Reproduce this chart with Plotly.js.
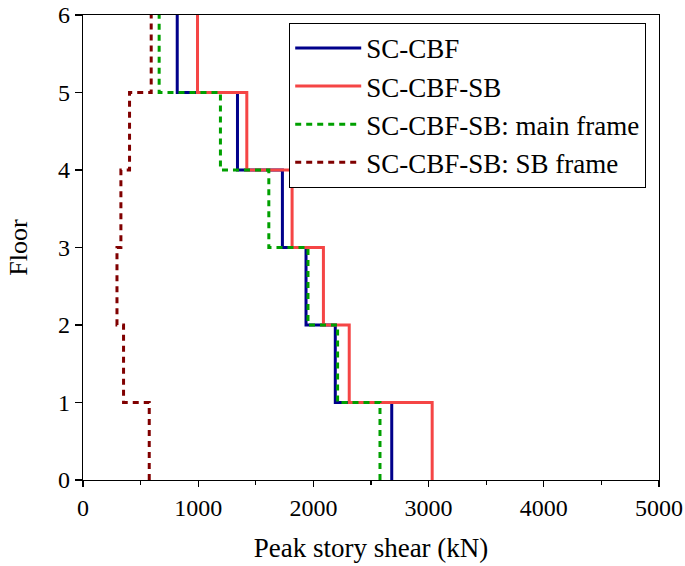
<!DOCTYPE html>
<html>
<head>
<meta charset="utf-8">
<script src="https://cdn.plot.ly/plotly-3.0.1.min.js"></script>
<style>
html,body{margin:0;padding:0;background:#fff;}
#chart{width:685px;height:566px;}
</style>
</head>
<body>
<div id="chart"></div>
<script>
// Story-level peak shear (kN), stories 1..6 (bottom to top)
const floors = [0, 1, 2, 3, 4, 5, 6];
const scCBF = [2680, 2190, 1936, 1731, 1341, 818];
const scCBFSB = [3031, 2311, 2087, 1815, 1422, 994];
const scCBFSBMain = [2578, 2210, 1953, 1613, 1193, 661];
const scCBFSBSB = [575, 352, 295, 329, 404, 592];
const seriesNames = ["SC-CBF", "SC-CBF-SB", "SC-CBF-SB: main frame", "SC-CBF-SB: SB frame"];
const xTickVals = [0, 1000, 2000, 3000, 4000, 5000];
const yTickVals = [0, 1, 2, 3, 4, 5, 6];

function stepX(vals) { return vals.concat([vals[vals.length - 1]]); }

const styles = [
  {color: "#00008B", dash: "solid"},
  {color: "#F54545", dash: "solid"},
  {color: "#00A000", dash: "6px,5px"},
  {color: "#800000", dash: "6px,5px"}
];
const allSeries = [scCBF, scCBFSB, scCBFSBMain, scCBFSBSB];

const traces = allSeries.map((s, i) => ({
  type: "scatter",
  mode: "lines",
  x: stepX(s),
  y: floors,
  name: seriesNames[i],
  line: {shape: "vh", color: styles[i].color, width: 3, dash: styles[i].dash}
}));

const font = "Liberation Serif, Times New Roman, serif";

const layout = {
  width: 685,
  height: 566,
  margin: {l: 83, r: 26, t: 15, b: 86},
  paper_bgcolor: "#fff",
  plot_bgcolor: "#fff",
  font: {family: font, color: "#000", size: 24},
  showlegend: true,
  legend: {
    x: 0.358, y: 0.983, xanchor: "left", yanchor: "top",
    bgcolor: "#fff", bordercolor: "#000", borderwidth: 1,
    font: {family: font, size: 27, color: "#000"},
    itemwidth: 66,
    tracegroupgap: 0
  },
  xaxis: {
    range: [0, 5000],
    tickvals: xTickVals,
    ticks: "outside", ticklen: 6, tickwidth: 1.3, tickcolor: "#000",
    minor: {dtick: 500, ticks: "outside", ticklen: 4, tickwidth: 1.3, tickcolor: "#000"},
    showline: true, linecolor: "#000", linewidth: 1.3, mirror: true,
    showgrid: false, zeroline: false,
    tickfont: {family: font, size: 24},
    title: {text: "Peak story shear (kN)", font: {family: font, size: 27}, standoff: 18}
  },
  yaxis: {
    range: [0, 6],
    tickvals: yTickVals,
    ticks: "outside", ticklen: 7, tickwidth: 1.3, tickcolor: "#000",
    showline: true, linecolor: "#000", linewidth: 1.3, mirror: true,
    showgrid: false, zeroline: false,
    tickfont: {family: font, size: 24},
    title: {text: "Floor", font: {family: font, size: 26}, standoff: 22}
  }
};

Plotly.newPlot("chart", traces, layout, {displayModeBar: false, staticPlot: true});
</script>
</body>
</html>
